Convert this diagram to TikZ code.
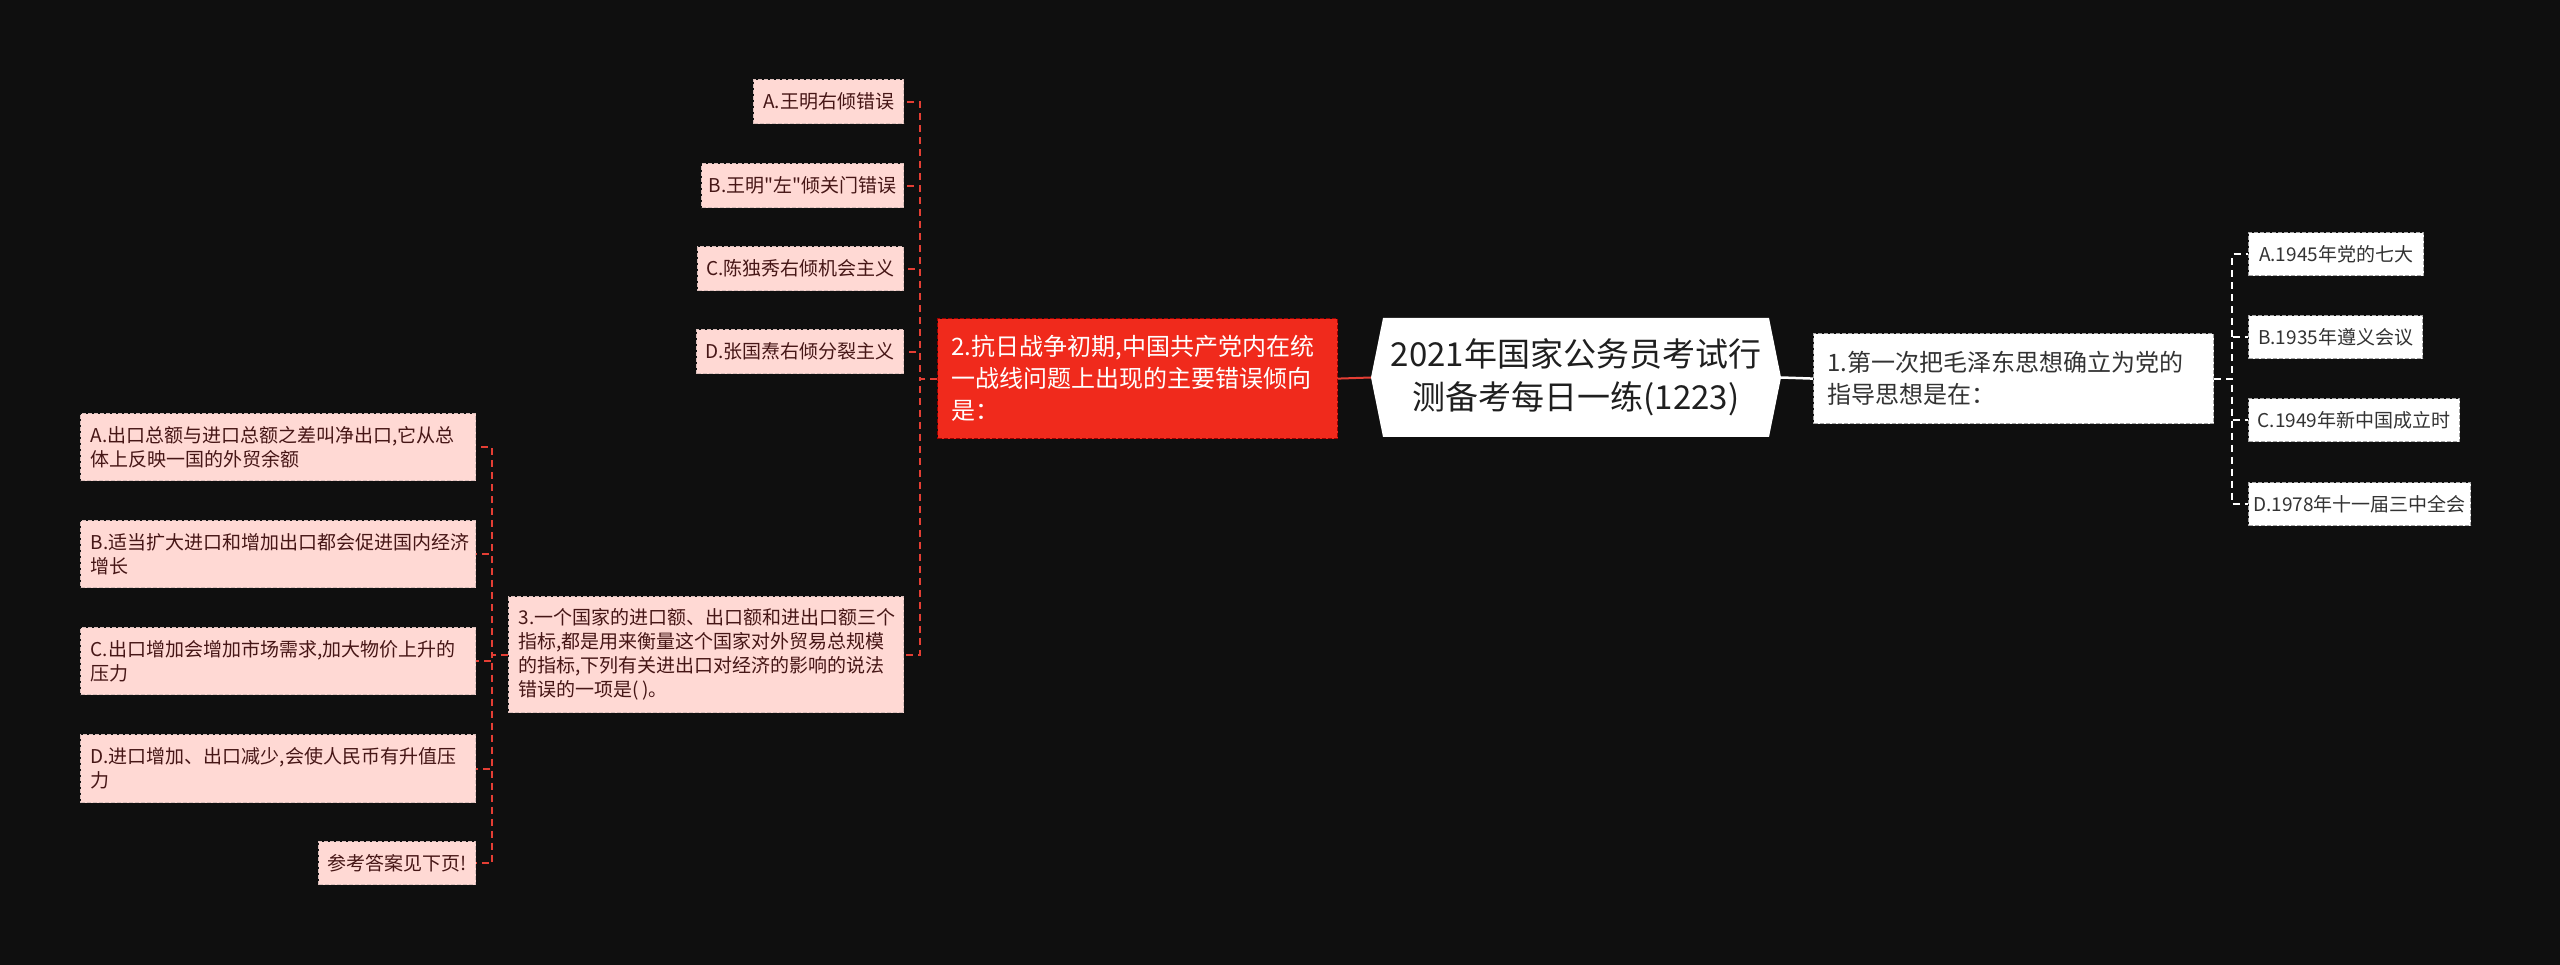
\documentclass[tikz,border=0pt]{standalone}
\usepackage{fontspec}
\newfontfamily\cjk{Noto Sans CJK SC}
\definecolor{bg}{RGB}{15,15,15}
\definecolor{topicred}{RGB}{240,42,28}
\definecolor{linkred}{RGB}{228,62,52}
\definecolor{optpink}{RGB}{255,217,212}
\definecolor{opttext}{RGB}{70,22,22}
\begin{document}
\begin{tikzpicture}[x=1pt,y=-1pt,
  basebox/.style={inner sep=0pt,anchor=north west,line width=1.2pt,dash pattern=on 4pt off 2pt},
  pinkbox/.style={basebox,fill=optpink,draw=optpink!70!gray,text=opttext,font=\cjk\fontsize{19}{24}\selectfont,align=left},
  whitebox/.style={basebox,fill=white,draw=gray!70,text=black!80,font=\cjk\fontsize{19}{24}\selectfont,align=left},
  redlink/.style={linkred,line width=2pt,dash pattern=on 7pt off 5pt},
  whitelink/.style={white,line width=2pt,dash pattern=on 7pt off 5pt}]
\fill[bg](0,0)rectangle(2560,965);
% central topic
\fill[white](1371,377.5)--(1383,318)--(1769,318)--(1781,377.5)--(1769,437)--(1383,437)--cycle;
\node[inner sep=0pt,minimum width=410,minimum height=119,text=black!88,font=\cjk\fontsize{33}{43}\selectfont,align=center](root)at(1576,377.5){2021年国家公务员考试行\\测备考每日一练(1223)};
% question 1
\node[whitebox,minimum width=400,minimum height=90,text width=372,font=\cjk\fontsize{24}{32}\selectfont](q1)at(1813,333){1.第一次把毛泽东思想确立为党的\\指导思想是在：};
\node[whitebox,minimum width=175,minimum height=43](q1a)at(2248,232){A.1945年党的七大};
\node[whitebox,minimum width=174,minimum height=43](q1b)at(2248,315){B.1935年遵义会议};
\node[whitebox,minimum width=211,minimum height=43](q1c)at(2248,398){C.1949年新中国成立时};
\node[whitebox,minimum width=222,minimum height=43](q1d)at(2248,482){D.1978年十一届三中全会};
% question 2
\node[basebox,fill=topicred,draw=red!60!black,text=white,minimum width=400,minimum height=120,text width=372,font=\cjk\fontsize{24}{32}\selectfont,align=left](q2)at(937,318){2.抗日战争初期,中国共产党内在统\\一战线问题上出现的主要错误倾向\\是：};
\node[pinkbox,minimum width=150,minimum height=44](q2a)at(753,79){A.王明右倾错误};
\node[pinkbox,minimum width=202,minimum height=44](q2b)at(701,163){B.王明"左"倾关门错误};
\node[pinkbox,minimum width=206,minimum height=44](q2c)at(697,246){C.陈独秀右倾机会主义};
\node[pinkbox,minimum width=207,minimum height=44](q2d)at(696,329){D.张国焘右倾分裂主义};
% question 3
\node[pinkbox,minimum width=395,minimum height=116,text width=375](q3)at(508,596){3.一个国家的进口额、出口额和进出口额三个\\指标,都是用来衡量这个国家对外贸易总规模\\的指标,下列有关进出口对经济的影响的说法\\错误的一项是(\,)。};
\node[pinkbox,minimum width=395,minimum height=67,text width=375](q3a)at(80,413){A.出口总额与进口总额之差叫净出口,它从总\\体上反映一国的外贸余额};
\node[pinkbox,minimum width=395,minimum height=67,text width=375](q3b)at(80,520){B.适当扩大进口和增加出口都会促进国内经济\\增长};
\node[pinkbox,minimum width=395,minimum height=67,text width=375](q3c)at(80,627){C.出口增加会增加市场需求,加大物价上升的\\压力};
\node[pinkbox,minimum width=395,minimum height=68,text width=375](q3d)at(80,734){D.进口增加、出口减少,会使人民币有升值压\\力};
\node[pinkbox,minimum width=157,minimum height=43](q3e)at(318,841){参考答案见下页!};
% links
\draw[linkred,line width=2pt](root.west)--(q2.east);
\draw[white,line width=2.5pt](root.east)--(q1.west);
\foreach \n in {q1a,q1b,q1c,q1d}\draw[whitelink](q1.east)--++(18,0)|-(\n.west);
\foreach \n in {q2a,q2b,q2c,q2d,q3}\draw[redlink](q2.west)--++(-17,0)|-(\n.east);
\foreach \n in {q3a,q3b,q3c,q3d,q3e}\draw[redlink](q3.west)--++(-16,0)|-(\n.east);
\end{tikzpicture}
\end{document}
